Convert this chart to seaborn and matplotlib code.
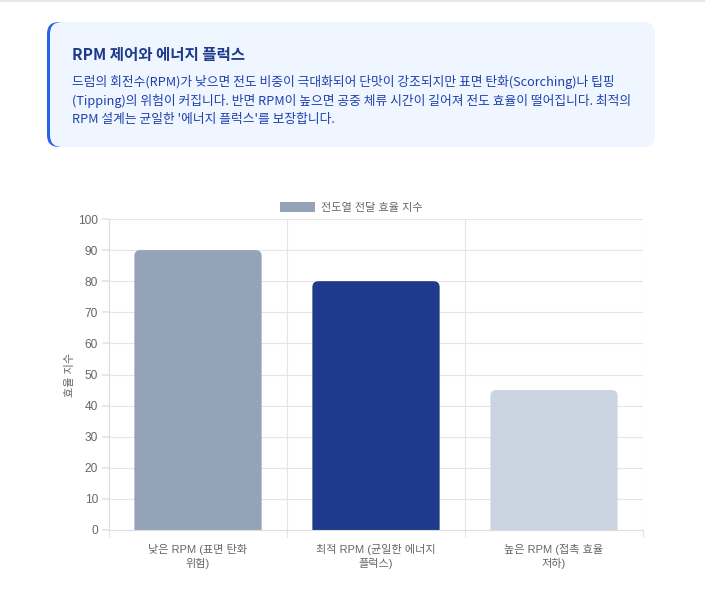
import pandas as pd
import seaborn as sns
import matplotlib.pyplot as plt
from matplotlib.patches import FancyBboxPatch, Patch

# data
categories = ["낮은 RPM (표면 탄화\n위험)", "최적 RPM (균일한 에너지\n플럭스)", "높은 RPM (접촉 효율\n저하)"]
efficiency = [90, 80, 45]
bar_colors = ["#94a3b8", "#1e3a8a", "#cbd5e1"]
series_name = "전도열 전달 효율 지수"
y_label = "효율 지수"
y_ticks = list(range(0, 101, 10))

title = "RPM 제어와 에너지 플럭스"
body_lines = [
    "드럼의 회전수(RPM)가 낮으면 전도 비중이 극대화되어 단맛이 강조되지만 표면 탄화(Scorching)나 팁핑",
    "(Tipping)의 위험이 커집니다. 반면 RPM이 높으면 공중 체류 시간이 길어져 전도 효율이 떨어집니다. 최적의",
    "RPM 설계는 균일한 '에너지 플럭스'를 보장합니다.",
]

sns.set_theme(style="white")
plt.rcParams["font.family"] = ["Noto Sans CJK KR", "DejaVu Sans"]
chart_font = ["Liberation Sans", "Noto Sans CJK KR"]

W, H = 705, 602
fig = plt.figure(figsize=(W / 100, H / 100), dpi=100)
fig.patch.set_facecolor("white")

# header card drawn in pixel coordinates
hd = fig.add_axes([0, 0, 1, 1])
hd.set_xlim(0, W)
hd.set_ylim(H, 0)
hd.axis("off")
hd.add_patch(plt.Rectangle((0, 0), W, 2, color="#e5e7eb", lw=0))
hd.add_patch(FancyBboxPatch((47, 22), 40, 125, boxstyle="round,pad=0,rounding_size=12",
                            fc="#2563eb", ec="none"))
hd.add_patch(FancyBboxPatch((50, 22), 605, 125, boxstyle="round,pad=0,rounding_size=12",
                            fc="#eff6ff", ec="none"))
hd.text(72, 55, title, fontsize=11.2, fontweight="bold", color="#1e3a8a", va="center")
for i, line in enumerate(body_lines):
    hd.text(72, 82 + i * 18.6, line, fontsize=9.2, color="#1e40af", va="center")

# chart
ax = fig.add_axes([109 / W, 1 - 530 / H, (643 - 109) / W, (530 - 219) / H])
df = pd.DataFrame({"category": categories, "value": efficiency})
sns.barplot(data=df, x="category", y="value", hue="category", palette=bar_colors,
            width=0.715, legend=False, ax=ax, saturation=1)

# round the top corners of each bar
px_x = (643 - 109) / 3.0
px_y = (530 - 219) / 100.0
r = 6 / px_x
for p in list(ax.patches):
    x, w, h = p.get_x(), p.get_width(), p.get_height()
    fc = p.get_facecolor()
    p.remove()
    ax.add_patch(FancyBboxPatch((x, -5), w, h + 5, boxstyle=f"round,pad=0,rounding_size={r}",
                                mutation_aspect=(6 / px_y) / r, fc=fc, ec="none", zorder=2))

ax.set_xlim(-0.5, 2.5)
ax.set_ylim(0, 100)
ax.set_yticks(y_ticks)
ax.set_xticks([0, 1, 2])
ax.set_xticklabels(categories, family=chart_font, linespacing=1.3)
ax.set_yticklabels([str(v) for v in y_ticks], family=chart_font)
ax.set_xlabel("")
ax.set_ylabel(y_label, fontsize=8.0, color="#666666", labelpad=2, family=chart_font)

ax.grid(False)
for y in y_ticks[1:]:
    ax.axhline(y, color="#e5e5e5", lw=0.8, zorder=0)
for xb in [0.5, 1.5, 2.5]:
    ax.axvline(xb, color="#e5e5e5", lw=0.8, zorder=0)
for s in ["top", "right"]:
    ax.spines[s].set_visible(False)
ax.spines["left"].set_color("#dddddd")
ax.spines["bottom"].set_color("#dddddd")
ax.spines["left"].set_linewidth(0.8)
ax.spines["bottom"].set_linewidth(0.8)

ax.tick_params(axis="y", left=True, length=5, color="#e5e5e5", labelsize=8.6,
               labelcolor="#666666", pad=3)
ax.tick_params(axis="x", bottom=False, labelsize=8.0, labelcolor="#666666", pad=4)
for xb in [-0.5, 0.5, 1.5, 2.5]:
    ax.plot([xb, xb], [0, -2.3], color="#e5e5e5", lw=0.8, clip_on=False)

leg = ax.legend(handles=[Patch(fc=bar_colors[0], ec="none")], labels=[series_name],
                loc="lower center", bbox_to_anchor=(351 / W, 1 - 213 / H),
                bbox_transform=fig.transFigure, frameon=False,
                prop={"family": chart_font, "size": 8.0}, handlelength=3.2,
                handleheight=0.95, handletextpad=0.5, borderaxespad=0.0, borderpad=0.0)
for t in leg.get_texts():
    t.set_color("#666666")

fig.savefig("out.png", dpi=100)
